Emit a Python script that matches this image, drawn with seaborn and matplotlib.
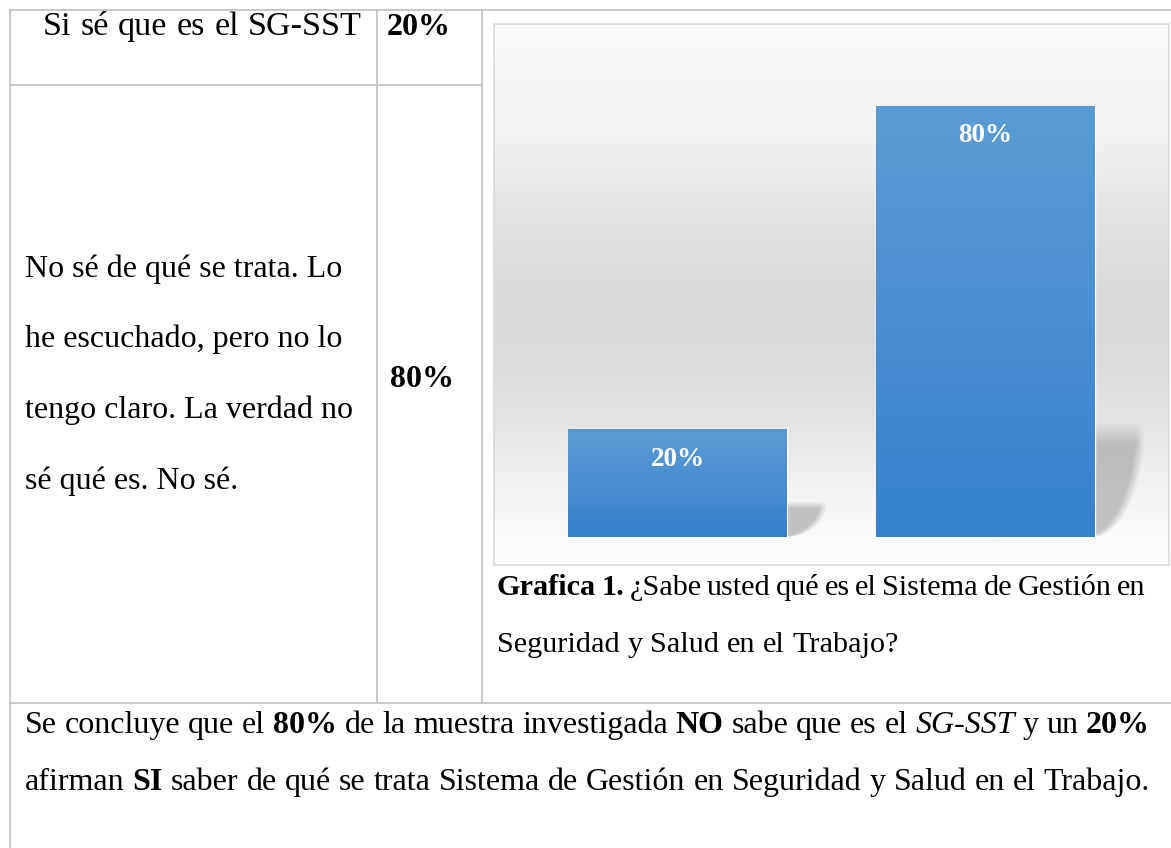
import numpy as np
import pandas as pd
import seaborn as sns
import matplotlib.pyplot as plt
from matplotlib.colors import LinearSegmentedColormap

# datos de la encuesta
respuestas = ["Si sé que es el SG-SST", "No sé de qué se trata"]
porcentajes = [20, 80]
etiquetas = ["20%", "80%"]
texto_no_sabe = ["No sé de qué se trata. Lo",
                 "he escuchado, pero no lo",
                 "tengo claro. La verdad no",
                 "sé qué es. No sé."]
caption_1 = [("Grafica 1.", "b"), ("¿Sabe usted qué es el Sistema de Gestión en", "n")]
caption_2 = [("Seguridad y Salud en el Trabajo?", "n")]
conclusion_1 = [("Se concluye que el", "n"), ("80%", "b"), ("de la muestra investigada", "n"),
                ("NO", "b"), ("sabe que es el", "n"), ("SG-SST", "i"), ("y un", "n"), ("20%", "b")]
conclusion_2 = [("afirman", "n"), ("SI", "b"),
                ("saber de qué se trata Sistema de Gestión en Seguridad y Salud en el Trabajo.", "n")]

sns.set_theme(style="white")
plt.rcParams['font.family'] = ['Liberation Serif', 'DejaVu Serif']
plt.rcParams['text.color'] = 'black'

W, H = 1171, 848
fig = plt.figure(figsize=(W / 100, H / 100), dpi=100)
fig.patch.set_facecolor("white")

# capa de la tabla, en pixeles
tab = fig.add_axes([0, 0, 1, 1])
tab.set_xlim(0, W)
tab.set_ylim(H, 0)
tab.axis("off")

linea = dict(color="#bfbfbf", lw=1.2)
tab.plot([10, W], [10, 10], **linea)
tab.plot([10, 10], [10, H], **linea)
tab.plot([10, 482], [84.5, 84.5], **linea)
tab.plot([377, 377], [10, 703], **linea)
tab.plot([482, 482], [10, 703], **linea)
tab.plot([10, W], [703, 703], **linea)

FS = 23
renderer = fig.canvas.get_renderer()


def ancho(txt, estilo, fs):
    t = tab.text(0, 0, txt, fontsize=fs, fontweight="bold" if estilo == "b" else "normal",
                 fontstyle="italic" if estilo == "i" else "normal")
    w = t.get_window_extent(renderer).width
    t.remove()
    return w


def escribir(x, y, runs, derecha=None, fs=FS):
    palabras = []
    for txt, estilo in runs:
        for p in txt.split(" "):
            palabras.append((p, estilo))
    anchos = [ancho(p, e, fs) for p, e in palabras]
    esp = ancho("a a", "n", fs) - ancho("aa", "n", fs)
    if derecha is not None and len(palabras) > 1:
        esp = (derecha - x - sum(anchos)) / (len(palabras) - 1)
    for (p, e), w in zip(palabras, anchos):
        tab.text(x, y, p, fontsize=fs, va="baseline", ha="left",
                 fontweight="bold" if e == "b" else "normal",
                 fontstyle="italic" if e == "i" else "normal", color="black")
        x += w + esp


escribir(43, 35, [(respuestas[0], "n")], derecha=362, fs=24.6)
tab.text(387, 35, etiquetas[0], fontsize=FS, fontweight="bold", ha="left", va="baseline")
for i, l in enumerate(texto_no_sabe):
    tab.text(25, 277 + 70.5 * i, l, fontsize=FS, ha="left", va="baseline")
tab.text(390, 387, etiquetas[1], fontsize=FS, fontweight="bold", ha="left", va="baseline")

escribir(497, 595, caption_1, derecha=1145, fs=21.8)
escribir(497, 652, caption_2, fs=21.8)
escribir(25, 733, conclusion_1, derecha=1150)
escribir(25, 790, conclusion_2)

# grafica
ax = fig.add_axes([494 / W, 1 - 565 / H, (1169 - 494) / W, (565 - 24) / H])
df = pd.DataFrame({"respuesta": respuestas, "porcentaje": porcentajes})
sns.barplot(data=df, x="respuesta", y="porcentaje", color="#4a8fd3", width=0.711,
            saturation=1, ax=ax, zorder=3)
ax.set_xlabel("")
ax.set_ylabel("")
ax.set_xticks([])
ax.set_yticks([])
for s in ax.spines.values():
    s.set_color("#d9d9d9")
    s.set_linewidth(1.2)

# fondo degradado
pos = np.linspace(0, 1, 300)
stops_y = [0.0, 0.05, 0.2, 0.35, 0.5, 0.62, 0.75, 0.88, 0.95, 1.0]
stops_g = [0.985, 0.975, 0.95, 0.89, 0.855, 0.86, 0.9, 0.96, 0.985, 0.995]
gris = np.interp(pos, stops_y, stops_g)[::-1]
fondo = np.stack([gris, gris, gris], axis=-1)[:, None, :].repeat(4, axis=1)
ax.imshow(fondo, extent=(0, 1, 0, 1), transform=ax.transAxes, aspect="auto",
          origin="lower", zorder=0)

barra_cmap = LinearSegmentedColormap.from_list("barra", ["#3481cc", "#4a8fd3", "#5b9bd5"])
for patch, lab in zip(ax.patches, etiquetas):
    x0, y0 = patch.get_x(), patch.get_y()
    w, h = patch.get_width(), patch.get_height()
    # sombra detras de la barra
    sw = w * (0.17 + 0.06 * h / 80)
    sh = h * 0.25 + 1.5
    uu, vv = np.meshgrid(np.linspace(0, 1, 80), np.linspace(0, 1, 80))
    umax = np.sqrt(np.clip(1 - (1 - vv) ** 2, 0, 1))
    alpha = np.clip((umax - uu) / 0.2, 0, 1) * np.clip((1 - vv) / 0.2, 0, 1) * 0.5
    sombra = np.zeros((80, 80, 4))
    sombra[..., :3] = 0.55
    sombra[..., 3] = alpha
    ax.imshow(sombra, extent=(x0 + w, x0 + w + sw, 0, sh), aspect="auto",
              origin="lower", zorder=2)
    grad = np.linspace(0, 1, 200)[:, None]
    im = ax.imshow(grad, extent=(x0, x0 + w, y0, y0 + h), cmap=barra_cmap,
                   aspect="auto", origin="lower", zorder=4)
    im.set_clip_path(patch)
    ax.annotate(lab, (x0 + w / 2, y0 + h), xytext=(0, -21.5), textcoords="offset points",
                ha="center", va="center", color="white", fontweight="bold",
                fontsize=19.5, zorder=5)

ax.set_xlim(-0.596, 1.596)
ax.set_ylim(-5.2, 95.2)

fig.savefig("out.png", dpi=100)
